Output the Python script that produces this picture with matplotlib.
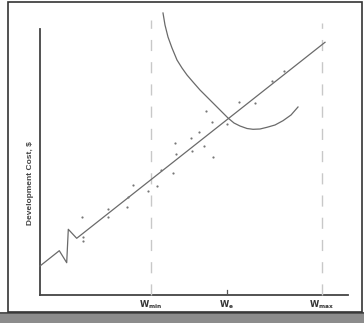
import matplotlib
matplotlib.use("Agg")
import matplotlib.pyplot as plt
from matplotlib.patches import Rectangle

# ---- data (arbitrary units) ----
trend_x = [0, 19.3, 26.7, 28.3, 36.7, 285]
trend_y = [29, 44.3, 32.3, 65.7, 56.7, 252.7]

curve_x = [123, 125, 128, 132, 137, 142, 147, 153, 160, 167, 173, 180, 188, 194, 200,
           207, 213, 220, 227, 235, 243, 251, 258]
curve_y = [282, 270, 258, 247, 235, 227, 220, 213, 205, 198, 192, 185, 177, 172, 169,
           166.5, 165.7, 166, 167.7, 170, 174.3, 180, 188]

pts_x = [41.7, 42.7, 42.7, 68.3, 68.3, 86.7, 88.3, 92.7, 107.7, 116.7, 120.7, 132.7, 135,
         136, 151, 152.3, 159, 164.3, 166.3, 172, 172.7, 186.7, 198.7, 215.3, 231.7, 244]
pts_y = [77.7, 57.7, 54.3, 86.3, 77.7, 88.3, 98.3, 110, 103.7, 109, 125, 121.7, 151.7,
         140.7, 156.7, 144.3, 162.7, 149, 183.7, 173.3, 138.3, 170.7, 193, 192.3, 214.3, 224.3]

tick_pos = [111, 187, 282]
tick_labels = [r'$\mathbf{W}_{\mathbf{min}}$', r'$\mathbf{W}_{\mathbf{e}}$', r'$\mathbf{W}_{\mathbf{max}}$']
dashed_x = [111, 282]
dashed_top = [275, 272]
x_end = 308
y_end = 266

W, H = 364, 323
fig = plt.figure(figsize=(W / 100, H / 100), dpi=100)
fig.patch.set_facecolor('white')

# frame and bottom gray band
fig.patches.append(Rectangle((0, 0), 1, 11 / H, transform=fig.transFigure,
                             facecolor='#8c8c8c', edgecolor='none', zorder=0))
fig.patches.append(Rectangle((0, 9 / H), 1, 2 / H, transform=fig.transFigure,
                             facecolor='#555555', edgecolor='none', zorder=0))
fig.patches.append(Rectangle((8 / W, 11 / H), 354 / W, (H - 2 - 11) / H, transform=fig.transFigure,
                             facecolor='none', edgecolor='#333333', linewidth=1.2, zorder=1))

ax = fig.add_axes([40 / W, 28 / H, 308 / W, 285 / H])
ax.set_xlim(0, 308)
ax.set_ylim(0, 285)
ax.patch.set_alpha(0)
for s in ax.spines.values():
    s.set_visible(False)

line_c = '#6a6a6a'
ax.plot([0, x_end], [0, 0], color='#444444', lw=1.3, clip_on=False)
ax.plot([0, 0], [0, y_end], color='#444444', lw=1.3, clip_on=False)

for xd, yt in zip(dashed_x, dashed_top):
    ax.plot([xd, xd], [0, yt], color='#c8c8c8', lw=1.0, dashes=(8, 8), clip_on=False)
ax.plot([tick_pos[1], tick_pos[1]], [0, 5], color='#555555', lw=0.9)

ax.plot(trend_x, trend_y, color=line_c, lw=0.9, clip_on=False)
ax.plot(curve_x, curve_y, color=line_c, lw=0.9, clip_on=False)
ax.scatter(pts_x, pts_y, s=2.5, color='#777777', linewidths=0, zorder=3)

ax.set_yticks([])
ax.set_xticks(tick_pos)
ax.set_xticklabels(tick_labels, fontsize=6, color='#333333')
ax.tick_params(axis='x', length=0, pad=2.5)

fig.text(30 / W, 1 - 183 / H, r'Development Cost, \$', rotation=90, ha='center', va='center',
         fontsize=6, fontweight='bold', color='#444444', family='Liberation Sans')

fig.savefig('out.png', dpi=100)
